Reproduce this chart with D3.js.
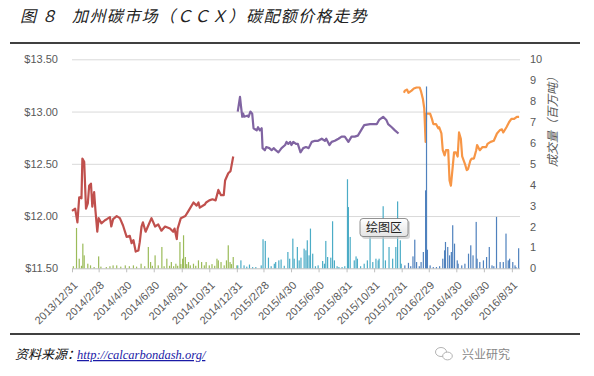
<!DOCTYPE html>
<html><head><meta charset="utf-8">
<script src="https://cdnjs.cloudflare.com/ajax/libs/d3/7.8.5/d3.min.js"></script>
<style>body{margin:0;background:#fff} svg{display:block}</style>
</head><body><svg id="c" width="594" height="376"></svg>
<script>
// ---------- DATA ----------
const tickLabels = ["2013/12/31","2014/2/28","2014/4/30","2014/6/30","2014/8/31","2014/10/31","2014/12/31","2015/2/28","2015/4/30","2015/6/30","2015/8/31","2015/10/31","2015/12/31","2016/2/29","2016/4/30","2016/6/30","2016/8/31"];
const priceTicks = [11.5, 12, 12.5, 13, 13.5];
const volumeTicks = [0,1,2,3,4,5,6,7,8,9,10];

const price2014Dates = ["2013-12-31","2014-01-07","2014-01-12","2014-01-16","2014-01-21","2014-01-23","2014-01-27","2014-01-31","2014-02-04","2014-02-07","2014-02-11","2014-02-14","2014-02-18","2014-02-21","2014-02-25","2014-02-28","2014-03-06","2014-03-14","2014-03-18","2014-03-25","2014-03-28","2014-04-01","2014-04-09","2014-04-16","2014-04-23","2014-05-01","2014-05-08","2014-05-12","2014-05-16","2014-05-21","2014-05-27","2014-05-30","2014-06-03","2014-06-06","2014-06-12","2014-06-17","2014-06-25","2014-07-03","2014-07-10","2014-07-17","2014-07-25","2014-08-05","2014-08-12","2014-08-15","2014-08-20","2014-08-22","2014-08-29","2014-09-08","2014-09-15","2014-09-26","2014-10-03","2014-10-07","2014-10-10","2014-10-21","2014-10-24","2014-10-31","2014-11-07","2014-11-14","2014-11-20","2014-11-26","2014-12-02","2014-12-05","2014-12-12","2014-12-17","2014-12-23"];
const price2014 = [12.05,12.07,11.94,12.18,12.17,12.55,12.52,12.07,12.12,12.29,12.31,12.09,12.23,12.05,11.85,11.98,11.93,11.96,11.97,11.99,11.90,11.97,12.00,11.98,11.91,11.80,11.81,11.74,11.77,11.66,11.67,11.75,11.90,11.94,11.85,11.90,11.98,11.90,11.92,11.86,11.90,11.88,11.85,11.88,11.78,11.88,11.98,12.00,12.05,12.13,12.10,12.13,12.08,12.11,12.13,12.15,12.16,12.15,12.25,12.20,12.20,12.34,12.41,12.43,12.57];

const price2015Dates = ["2015-01-02","2015-01-07","2015-01-09","2015-01-12","2015-01-14","2015-01-16","2015-01-23","2015-01-26","2015-01-30","2015-02-03","2015-02-06","2015-02-13","2015-02-16","2015-02-20","2015-02-24","2015-02-26","2015-03-03","2015-03-06","2015-03-13","2015-03-18","2015-03-23","2015-03-27","2015-04-02","2015-04-09","2015-04-17","2015-04-20","2015-04-24","2015-04-28","2015-05-01","2015-05-05","2015-05-11","2015-05-15","2015-05-21","2015-05-27","2015-06-02","2015-06-08","2015-06-15","2015-06-22","2015-06-29","2015-07-07","2015-07-14","2015-07-17","2015-07-24","2015-07-29","2015-08-05","2015-08-13","2015-08-20","2015-08-27","2015-09-04","2015-09-11","2015-09-18","2015-09-25","2015-10-02","2015-10-09","2015-10-22","2015-10-29","2015-11-06","2015-11-11","2015-11-20","2015-11-27","2015-12-01","2015-12-09","2015-12-16","2015-12-24"];
const price2015 = [13.00,13.14,13.06,12.95,12.98,12.95,12.96,12.95,13.00,12.98,12.84,12.82,12.85,12.82,12.84,12.65,12.63,12.66,12.65,12.63,12.65,12.63,12.61,12.65,12.68,12.71,12.69,12.71,12.68,12.71,12.69,12.69,12.61,12.65,12.66,12.65,12.71,12.72,12.72,12.74,12.72,12.74,12.68,12.71,12.72,12.74,12.76,12.76,12.71,12.76,12.76,12.77,12.82,12.87,12.88,12.88,12.88,12.92,12.95,12.92,12.88,12.85,12.82,12.79];

const price2016Dates = ["2016-01-05","2016-01-07","2016-01-12","2016-01-15","2016-01-22","2016-01-27","2016-02-02","2016-02-09","2016-02-12","2016-02-16","2016-02-19","2016-02-22","2016-02-23","2016-03-03","2016-03-07","2016-03-10","2016-03-16","2016-03-21","2016-03-23","2016-03-28","2016-03-31","2016-04-04","2016-04-07","2016-04-12","2016-04-15","2016-04-18","2016-04-22","2016-04-25","2016-04-29","2016-05-03","2016-05-06","2016-05-10","2016-05-13","2016-05-19","2016-05-23","2016-05-26","2016-05-31","2016-06-03","2016-06-08","2016-06-13","2016-06-15","2016-06-21","2016-06-27","2016-07-05","2016-07-08","2016-07-15","2016-07-22","2016-07-29","2016-08-04","2016-08-09","2016-08-12","2016-08-19","2016-08-25","2016-08-30","2016-09-05","2016-09-11","2016-09-16"];
const price2016 = [13.18,13.20,13.21,13.18,13.20,13.22,13.23,13.23,13.19,13.12,13.03,12.71,12.98,12.98,12.93,12.88,12.88,12.84,12.85,12.79,12.63,12.58,12.63,12.63,12.34,12.29,12.47,12.61,12.61,12.57,12.80,12.74,12.57,12.50,12.44,12.45,12.53,12.55,12.55,12.63,12.68,12.63,12.66,12.66,12.69,12.71,12.72,12.79,12.82,12.83,12.80,12.85,12.90,12.93,12.93,12.95,12.95];

const vol2014Dates = ["2014-01-03","2014-01-10","2014-01-16","2014-01-21","2014-01-24","2014-01-27","2014-02-04","2014-02-10","2014-02-18","2014-02-28","2014-03-05","2014-03-17","2014-03-25","2014-04-01","2014-04-09","2014-04-18","2014-04-28","2014-05-07","2014-05-16","2014-05-23","2014-06-02","2014-06-10","2014-06-18","2014-06-23","2014-06-27","2014-07-03","2014-07-10","2014-07-18","2014-07-23","2014-07-29","2014-08-04","2014-08-08","2014-08-13","2014-08-18","2014-08-22","2014-08-27","2014-08-29","2014-09-02","2014-09-04","2014-09-08","2014-09-11","2014-09-15","2014-09-19","2014-09-26","2014-10-01","2014-10-07","2014-10-14","2014-10-20","2014-10-24","2014-10-31","2014-11-06","2014-11-12","2014-11-17","2014-11-20","2014-11-26","2014-12-03","2014-12-08","2014-12-12","2014-12-16","2014-12-19","2014-12-23","2014-12-31"];
const vol2014 = [0.10,1.93,0.46,0.12,1.18,0.62,0.22,0.14,0.06,0.57,0.08,0.06,0.10,0.14,0.14,0.08,0.14,0.10,0.14,0.08,0.22,0.10,1.02,0.30,0.12,0.62,0.14,1.02,0.10,0.46,0.12,0.30,0.10,0.22,0.12,1.26,0.20,0.46,1.58,0.54,0.20,0.30,0.14,0.22,0.12,0.38,0.30,0.14,0.30,0.14,0.20,0.12,0.46,0.38,0.30,0.14,0.38,1.10,0.30,0.20,0.54,0.14];

const vol2015Dates = ["2015-01-02","2015-01-09","2015-01-16","2015-01-22","2015-01-28","2015-02-04","2015-02-11","2015-02-23","2015-02-27","2015-03-04","2015-03-11","2015-03-17","2015-03-24","2015-03-27","2015-04-03","2015-04-08","2015-04-15","2015-04-23","2015-04-27","2015-05-04","2015-05-07","2015-05-14","2015-05-18","2015-05-22","2015-05-29","2015-06-02","2015-06-05","2015-06-09","2015-06-12","2015-06-17","2015-06-23","2015-06-29","2015-07-09","2015-07-13","2015-07-16","2015-07-20","2015-07-27","2015-07-31","2015-08-04","2015-08-10","2015-08-14","2015-08-21","2015-08-27","2015-09-02","2015-09-04","2015-09-08","2015-09-17","2015-09-21","2015-09-24","2015-10-01","2015-10-09","2015-10-16","2015-10-22","2015-10-28","2015-11-04","2015-11-09","2015-11-11","2015-11-20","2015-11-25","2015-12-03","2015-12-11","2015-12-18","2015-12-22","2015-12-28","2015-12-30"];
const vol2015 = [0.14,0.38,0.14,0.08,0.18,0.06,0.06,0.14,1.39,1.31,0.51,0.10,0.22,0.30,0.38,0.42,0.12,0.78,0.46,1.42,0.46,1.02,0.38,0.51,0.94,0.86,1.34,0.62,1.90,0.70,0.10,0.14,0.35,0.22,1.31,0.54,0.51,2.25,0.38,0.10,0.06,0.06,0.10,4.26,2.93,1.50,0.38,0.57,0.46,0.10,0.22,0.38,1.50,0.30,0.46,0.38,0.46,2.97,0.38,1.02,0.46,1.02,3.20,1.34,0.22];

const vol2016Dates = ["2016-01-07","2016-01-15","2016-01-20","2016-01-25","2016-01-29","2016-02-02","2016-02-08","2016-02-12","2016-02-17","2016-02-22","2016-02-24","2016-02-26","2016-03-03","2016-03-10","2016-03-17","2016-03-24","2016-03-31","2016-04-04","2016-04-06","2016-04-11","2016-04-15","2016-04-19","2016-04-22","2016-04-26","2016-05-02","2016-05-04","2016-05-12","2016-05-19","2016-05-27","2016-06-01","2016-06-06","2016-06-13","2016-06-15","2016-06-21","2016-06-29","2016-07-06","2016-07-12","2016-07-18","2016-07-22","2016-07-28","2016-08-05","2016-08-12","2016-08-18","2016-08-23","2016-08-26","2016-09-02","2016-09-07","2016-09-09","2016-09-15"];
const vol2016 = [0.14,0.26,0.10,0.57,1.37,0.30,0.10,0.30,0.78,3.73,8.70,0.89,0.14,0.06,0.06,0.10,0.46,0.86,1.26,1.02,0.62,0.78,2.06,1.18,0.38,0.22,0.14,0.22,0.70,1.10,0.62,2.22,0.46,0.30,0.38,0.54,1.02,0.14,0.10,2.46,0.30,0.30,1.66,0.38,0.46,0.30,0.14,0.06,0.96];

// ---------- CHART ----------
const svg = d3.select("#c");
const parse = d3.timeParse("%Y-%m-%d");
const parseTick = d3.timeParse("%Y/%m/%d");
const L = 72, R = 520, T = 59.3, B = 268.3;

const x = d3.scaleTime().domain([parse("2013-12-31"), parse("2016-09-18")]).range([L, R]);
const yP = d3.scaleLinear().domain([11.5, 13.5]).range([B, T]);
const yV = d3.scaleLinear().domain([0, 10]).range([B, T]);

const labelFont = "'Liberation Sans', Arial, sans-serif";
const cjk = "'Noto Sans CJK SC', sans-serif";

// frame lines
svg.append("line").attr("x1",10).attr("x2",580).attr("y1",43).attr("y2",43).attr("stroke","#000").attr("stroke-width",1.5);
svg.append("line").attr("x1",10).attr("x2",580).attr("y1",334).attr("y2",334).attr("stroke","#000").attr("stroke-width",1.5);

// title
svg.append("text").attr("x",20).attr("y",21.5).attr("font-family",cjk).attr("font-size",16).attr("font-style","italic").attr("letter-spacing",5).attr("fill","#222").text("图８");
svg.append("text").attr("x",72).attr("y",21.5).attr("font-family",cjk).attr("font-size",16).attr("font-style","italic").attr("letter-spacing",1.4).attr("fill","#222").text("加州碳市场（ＣＣＸ）碳配额价格走势");

// gridlines
svg.append("g").attr("transform",`translate(${L},0)`)
  .call(d3.axisLeft(yP).tickValues(priceTicks.filter(v=>v>11.5)).tickSize(-(R-L)).tickFormat(""))
  .call(g=>g.select(".domain").remove())
  .call(g=>g.selectAll("line").attr("stroke","#D9D9D9"));

// left axis labels
svg.append("g").attr("transform",`translate(${L},0)`)
  .call(d3.axisLeft(yP).tickValues(priceTicks).tickSize(0).tickPadding(14).tickFormat(d=>"$"+d.toFixed(2)))
  .call(g=>g.select(".domain").remove())
  .call(g=>g.selectAll("text").attr("font-family",labelFont).attr("font-size",11).attr("fill","#595959"));

// right axis labels
svg.append("g").attr("transform",`translate(${R},0)`)
  .call(d3.axisRight(yV).tickValues(volumeTicks).tickSize(0).tickPadding(10).tickFormat(d3.format("d")))
  .call(g=>g.select(".domain").remove())
  .call(g=>g.selectAll("text").attr("font-family",labelFont).attr("font-size",11).attr("fill","#595959"));

// right axis title
svg.append("text").attr("transform","translate(557,119) rotate(-90)").attr("text-anchor","middle")
  .attr("font-family",cjk).attr("font-size",12).attr("font-style","italic").attr("fill","#595959").text("成交量（百万吨）");

// x axis
const tickDates = tickLabels.map(parseTick);
svg.append("g").attr("transform",`translate(0,${B})`)
  .call(d3.axisBottom(x).tickValues(tickDates).tickSize(4).tickFormat((d,i)=>tickLabels[i]))
  .call(g=>g.select(".domain").attr("stroke","#BFBFBF").attr("d",`M${L},0.5H${R}`))
  .call(g=>g.selectAll("line").attr("stroke","#BFBFBF"))
  .call(g=>g.selectAll("text").attr("font-family",labelFont).attr("font-size",11).attr("fill","#595959")
    .attr("text-anchor","end").attr("dy","0.35em").attr("transform","translate(3,15) rotate(-45)").attr("y",0).attr("x",0));

// price lines
const line = d3.line().x(d=>x(d[0])).y(d=>yP(d[1]));
const priceSeries = [
  {dates: price2014Dates, vals: price2014, color: "#C0504D"},
  {dates: price2015Dates, vals: price2015, color: "#8064A2"},
  {dates: price2016Dates, vals: price2016, color: "#F79646"}
];
priceSeries.forEach(s=>{
  const pts = s.dates.map((d,i)=>[parse(d), s.vals[i]]);
  svg.append("path").datum(pts).attr("d",line).attr("fill","none").attr("stroke",s.color)
    .attr("stroke-width",2.2).attr("stroke-linejoin","round");
});

// volume bars
const volSeries = [
  {dates: vol2014Dates, vals: vol2014, color: "#9BBB59"},
  {dates: vol2015Dates, vals: vol2015, color: "#4BACC6"},
  {dates: vol2016Dates, vals: vol2016, color: "#4F81BD"}
];
volSeries.forEach(s=>{
  svg.append("g").selectAll("rect").data(s.dates.map((d,i)=>[parse(d), s.vals[i]])).join("rect")
    .attr("x",d=>x(d[0])-0.6).attr("width",1.2)
    .attr("y",d=>yV(d[1])).attr("height",d=>yV(0)-yV(d[1]))
    .attr("fill",s.color);
});

// tooltip "绘图区"
const defs = svg.append("defs");
const gr = defs.append("linearGradient").attr("id","tipg").attr("x1",0).attr("y1",0).attr("x2",0).attr("y2",1);
gr.append("stop").attr("offset","0%").attr("stop-color","#ffffff");
gr.append("stop").attr("offset","100%").attr("stop-color","#e4e4e4");
svg.append("rect").attr("x",362).attr("y",220.5).attr("width",48).attr("height",18.5).attr("rx",3).attr("fill","#c8c8c8").attr("opacity",0.7);
svg.append("rect").attr("x",360).attr("y",218.5).attr("width",48).attr("height",18).attr("rx",3).attr("fill","url(#tipg)").attr("stroke","#767676").attr("stroke-width",0.8);
svg.append("text").attr("x",384).attr("y",232).attr("text-anchor","middle").attr("font-family",cjk).attr("font-size",12).attr("fill","#222").text("绘图区");

// footer
svg.append("text").attr("x",15).attr("y",359).attr("font-family",cjk).attr("font-size",13).attr("font-style","italic").attr("fill","#111").text("资料来源：");
svg.append("text").attr("x",77).attr("y",359).attr("font-family","'Liberation Serif', serif").attr("font-size",12.5).attr("font-style","italic").attr("fill","#1a1aa6").attr("text-decoration","underline").text("http://calcarbondash.org/");

// watermark
const wm = svg.append("g").attr("fill","none").attr("stroke","#aaa").attr("stroke-width",0.9);
wm.append("ellipse").attr("cx",441).attr("cy",352).attr("rx",5.5).attr("ry",4.5);
wm.append("ellipse").attr("cx",447.5).attr("cy",356).attr("rx",4.8).attr("ry",3.9).attr("fill","#fff");
svg.append("text").attr("x",462).attr("y",359).attr("font-family",cjk).attr("font-size",12).attr("fill","#888").text("兴业研究");
</script></body></html>
